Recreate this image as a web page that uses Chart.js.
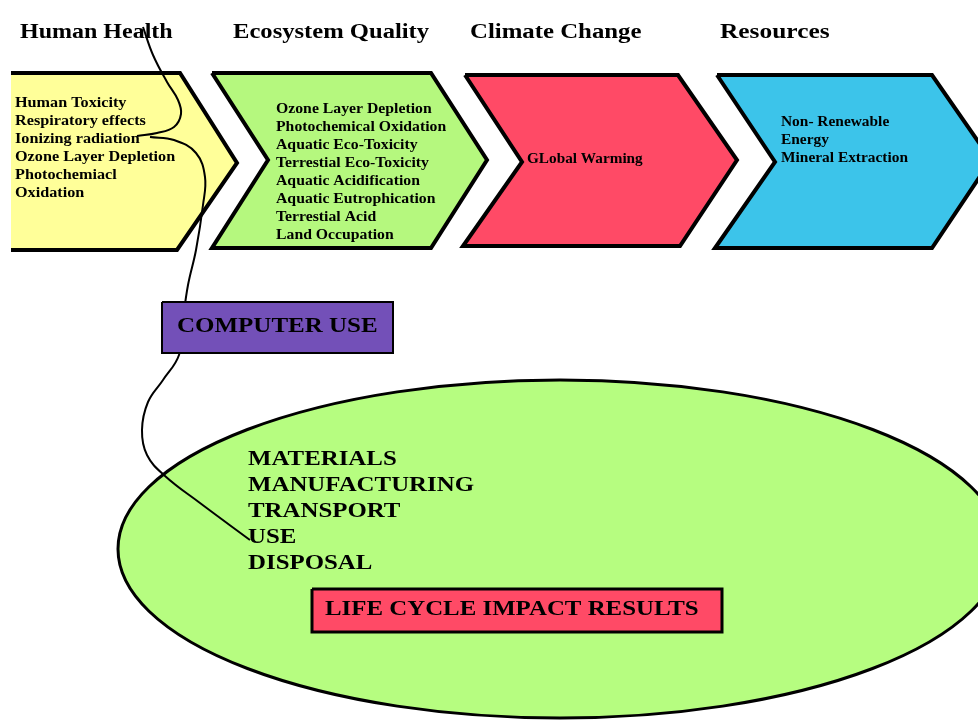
<!DOCTYPE html>
<html>
<head>
<meta charset="utf-8">
<script src="https://cdn.jsdelivr.net/npm/chart.js@4.4.1/dist/chart.umd.min.js"></script>
<style>
  html, body { margin: 0; padding: 0; background: #fff; }
  #diagram { display: block; }
</style>
</head>
<body>
<canvas id="diagram" width="978" height="725"></canvas>
<script>
// Life cycle impact diagram — drawn on a hidden 978 x 725 linear grid

// ── Text content ───────────────────────────────────────────
const headers         = ["Human Health", "Ecosystem Quality", "Climate Change", "Resources"];
const healthItems     = ["Human Toxicity", "Respiratory effects", "Ionizing radiation",
                         "Ozone Layer Depletion", "Photochemiacl", "Oxidation"];
const ecosystemItems  = ["Ozone Layer Depletion", "Photochemical Oxidation", "Aquatic Eco-Toxicity",
                         "Terrestial Eco-Toxicity", "Aquatic Acidification", "Aquatic Eutrophication",
                         "Terrestial Acid", "Land Occupation"];
const climateItems    = ["GLobal Warming"];
const resourceItems   = ["Non- Renewable", "Energy", "Mineral Extraction"];
const lifeCycleStages = ["MATERIALS", "MANUFACTURING", "TRANSPORT", "USE", "DISPOSAL"];
const computerLabel   = ["COMPUTER USE"];
const resultLabel     = ["LIFE CYCLE IMPACT RESULTS"];

// ── Shape outlines (grid units) ────────────────────────────
const healthShape    = [[11,250],[177,250],[237,163],[180,73],[11,73]];
const ecosystemShape = [[212,73],[431,73],[487,160],[431,248],[212,248],[268,160],[212,73]];
const climateShape   = [[465,75],[678,75],[737,160],[680,246],[463,246],[522,162],[465,75]];
const resourceShape  = [[717,75],[932,75],[991,160],[932,248],[715,248],[775,162],[717,75]];
const computerBox    = [[162,302],[393,302],[393,353],[162,353],[162,302]];
const resultBox      = [[312,589],[722,589],[722,632],[312,632],[312,589]];
const lifeCycleOval  = [560, 549, 442, 169]; // cx, cy, rx, ry

// connector from the header down to "USE"
const linkUpper = [[143,27],[153,55],[167,82],[178,100],[181,114],[174,127],[157,133],[137,136]];
const linkLower = [[150,137],[174,140],[196,153],[205,177],[203,205],[196,250],[188,285],
                   [183,320],[179,355],[163,380],[148,402],[142,430],[147,455],[165,476],
                   [200,503],[250,540]];

const toPoints = arr => arr.map(p => ({ x: p[0], y: p[1] }));

function shapeSet(points, fillColor, border, order) {
  return {
    data: toPoints(points),
    fill: "shape",
    backgroundColor: fillColor,
    borderColor: "#000",
    borderWidth: border,
    borderJoinStyle: "miter",
    pointRadius: 0,
    tension: 0,
    order: order
  };
}

function linkSet(points) {
  return {
    data: toPoints(points),
    fill: false,
    borderColor: "#000",
    borderWidth: 2,
    pointRadius: 0,
    tension: 0.4,
    order: 5
  };
}

// text groups: lines, x, first-line y, line step, font px, horizontal stretch
const textGroups = [
  { lines: [headers[0]], x: 20,  y: 31, step: 0, size: 20, stretch: 1.2 },
  { lines: [headers[1]], x: 233, y: 31, step: 0, size: 20, stretch: 1.23 },
  { lines: [headers[2]], x: 470, y: 31, step: 0, size: 20, stretch: 1.24 },
  { lines: [headers[3]], x: 720, y: 31, step: 0, size: 20, stretch: 1.27 },
  { lines: healthItems,     x: 15,  y: 101, step: 18, size: 15, stretch: 1.08 },
  { lines: ecosystemItems,  x: 276, y: 107, step: 18, size: 15, stretch: 1.05 },
  { lines: climateItems,    x: 527, y: 157, step: 18, size: 14, stretch: 1.09 },
  { lines: resourceItems,   x: 781, y: 120, step: 18, size: 14, stretch: 1.1 },
  { lines: lifeCycleStages, x: 248, y: 457, step: 26, size: 22, stretch: 1.13 },
  { lines: computerLabel,   x: 177, y: 325, step: 0, size: 21, stretch: 1.19 },
  { lines: resultLabel,     x: 325, y: 607, step: 0, size: 22, stretch: 1.13 }
];

const ovalPlugin = {
  id: "lifeCycleOval",
  beforeDatasetsDraw(chart) {
    const { ctx, scales: { x, y } } = chart;
    const [cx, cy, rx, ry] = lifeCycleOval;
    const px = x.getPixelForValue(cx), py = y.getPixelForValue(cy);
    const prx = Math.abs(x.getPixelForValue(cx + rx) - px);
    const pry = Math.abs(y.getPixelForValue(cy + ry) - py);
    ctx.save();
    ctx.beginPath();
    ctx.ellipse(px, py, prx, pry, 0, 0, Math.PI * 2);
    ctx.fillStyle = "#b6fd80";
    ctx.fill();
    ctx.lineWidth = 3;
    ctx.strokeStyle = "#000";
    ctx.stroke();
    ctx.restore();
  }
};

const textPlugin = {
  id: "diagramText",
  afterDatasetsDraw(chart) {
    const { ctx, scales: { x, y } } = chart;
    ctx.save();
    ctx.fillStyle = "#000";
    ctx.textAlign = "left";
    ctx.textBaseline = "middle";
    textGroups.forEach(g => {
      ctx.font = "bold " + g.size + "px 'Liberation Serif', 'DejaVu Serif', serif";
      g.lines.forEach((line, i) => {
        const px = x.getPixelForValue(g.x);
        const py = y.getPixelForValue(g.y + i * g.step) + 2;
        ctx.save();
        ctx.translate(px, py);
        ctx.scale(g.stretch, 1);
        ctx.fillText(line, 0, 0);
        ctx.restore();
      });
    });
    ctx.restore();
  }
};

new Chart(document.getElementById("diagram").getContext("2d"), {
  type: "line",
  data: {
    datasets: [
      shapeSet(healthShape,    "#ffff99", 4, 10),
      shapeSet(ecosystemShape, "#b5f87e", 4, 10),
      shapeSet(climateShape,   "#ff4a66", 4, 10),
      shapeSet(resourceShape,  "#3cc4ea", 4, 10),
      linkSet(linkUpper),
      linkSet(linkLower),
      shapeSet(computerBox,    "#7350b8", 2, 1),
      shapeSet(resultBox,      "#ff4a66", 3, 1)
    ]
  },
  options: {
    responsive: false,
    animation: false,
    layout: { padding: 0 },
    plugins: {
      legend: { display: false },
      tooltip: { enabled: false }
    },
    scales: {
      x: { type: "linear", min: 0, max: 978, display: false },
      y: { type: "linear", min: 0, max: 725, reverse: true, display: false }
    }
  },
  plugins: [ovalPlugin, textPlugin]
});
</script>
</body>
</html>
